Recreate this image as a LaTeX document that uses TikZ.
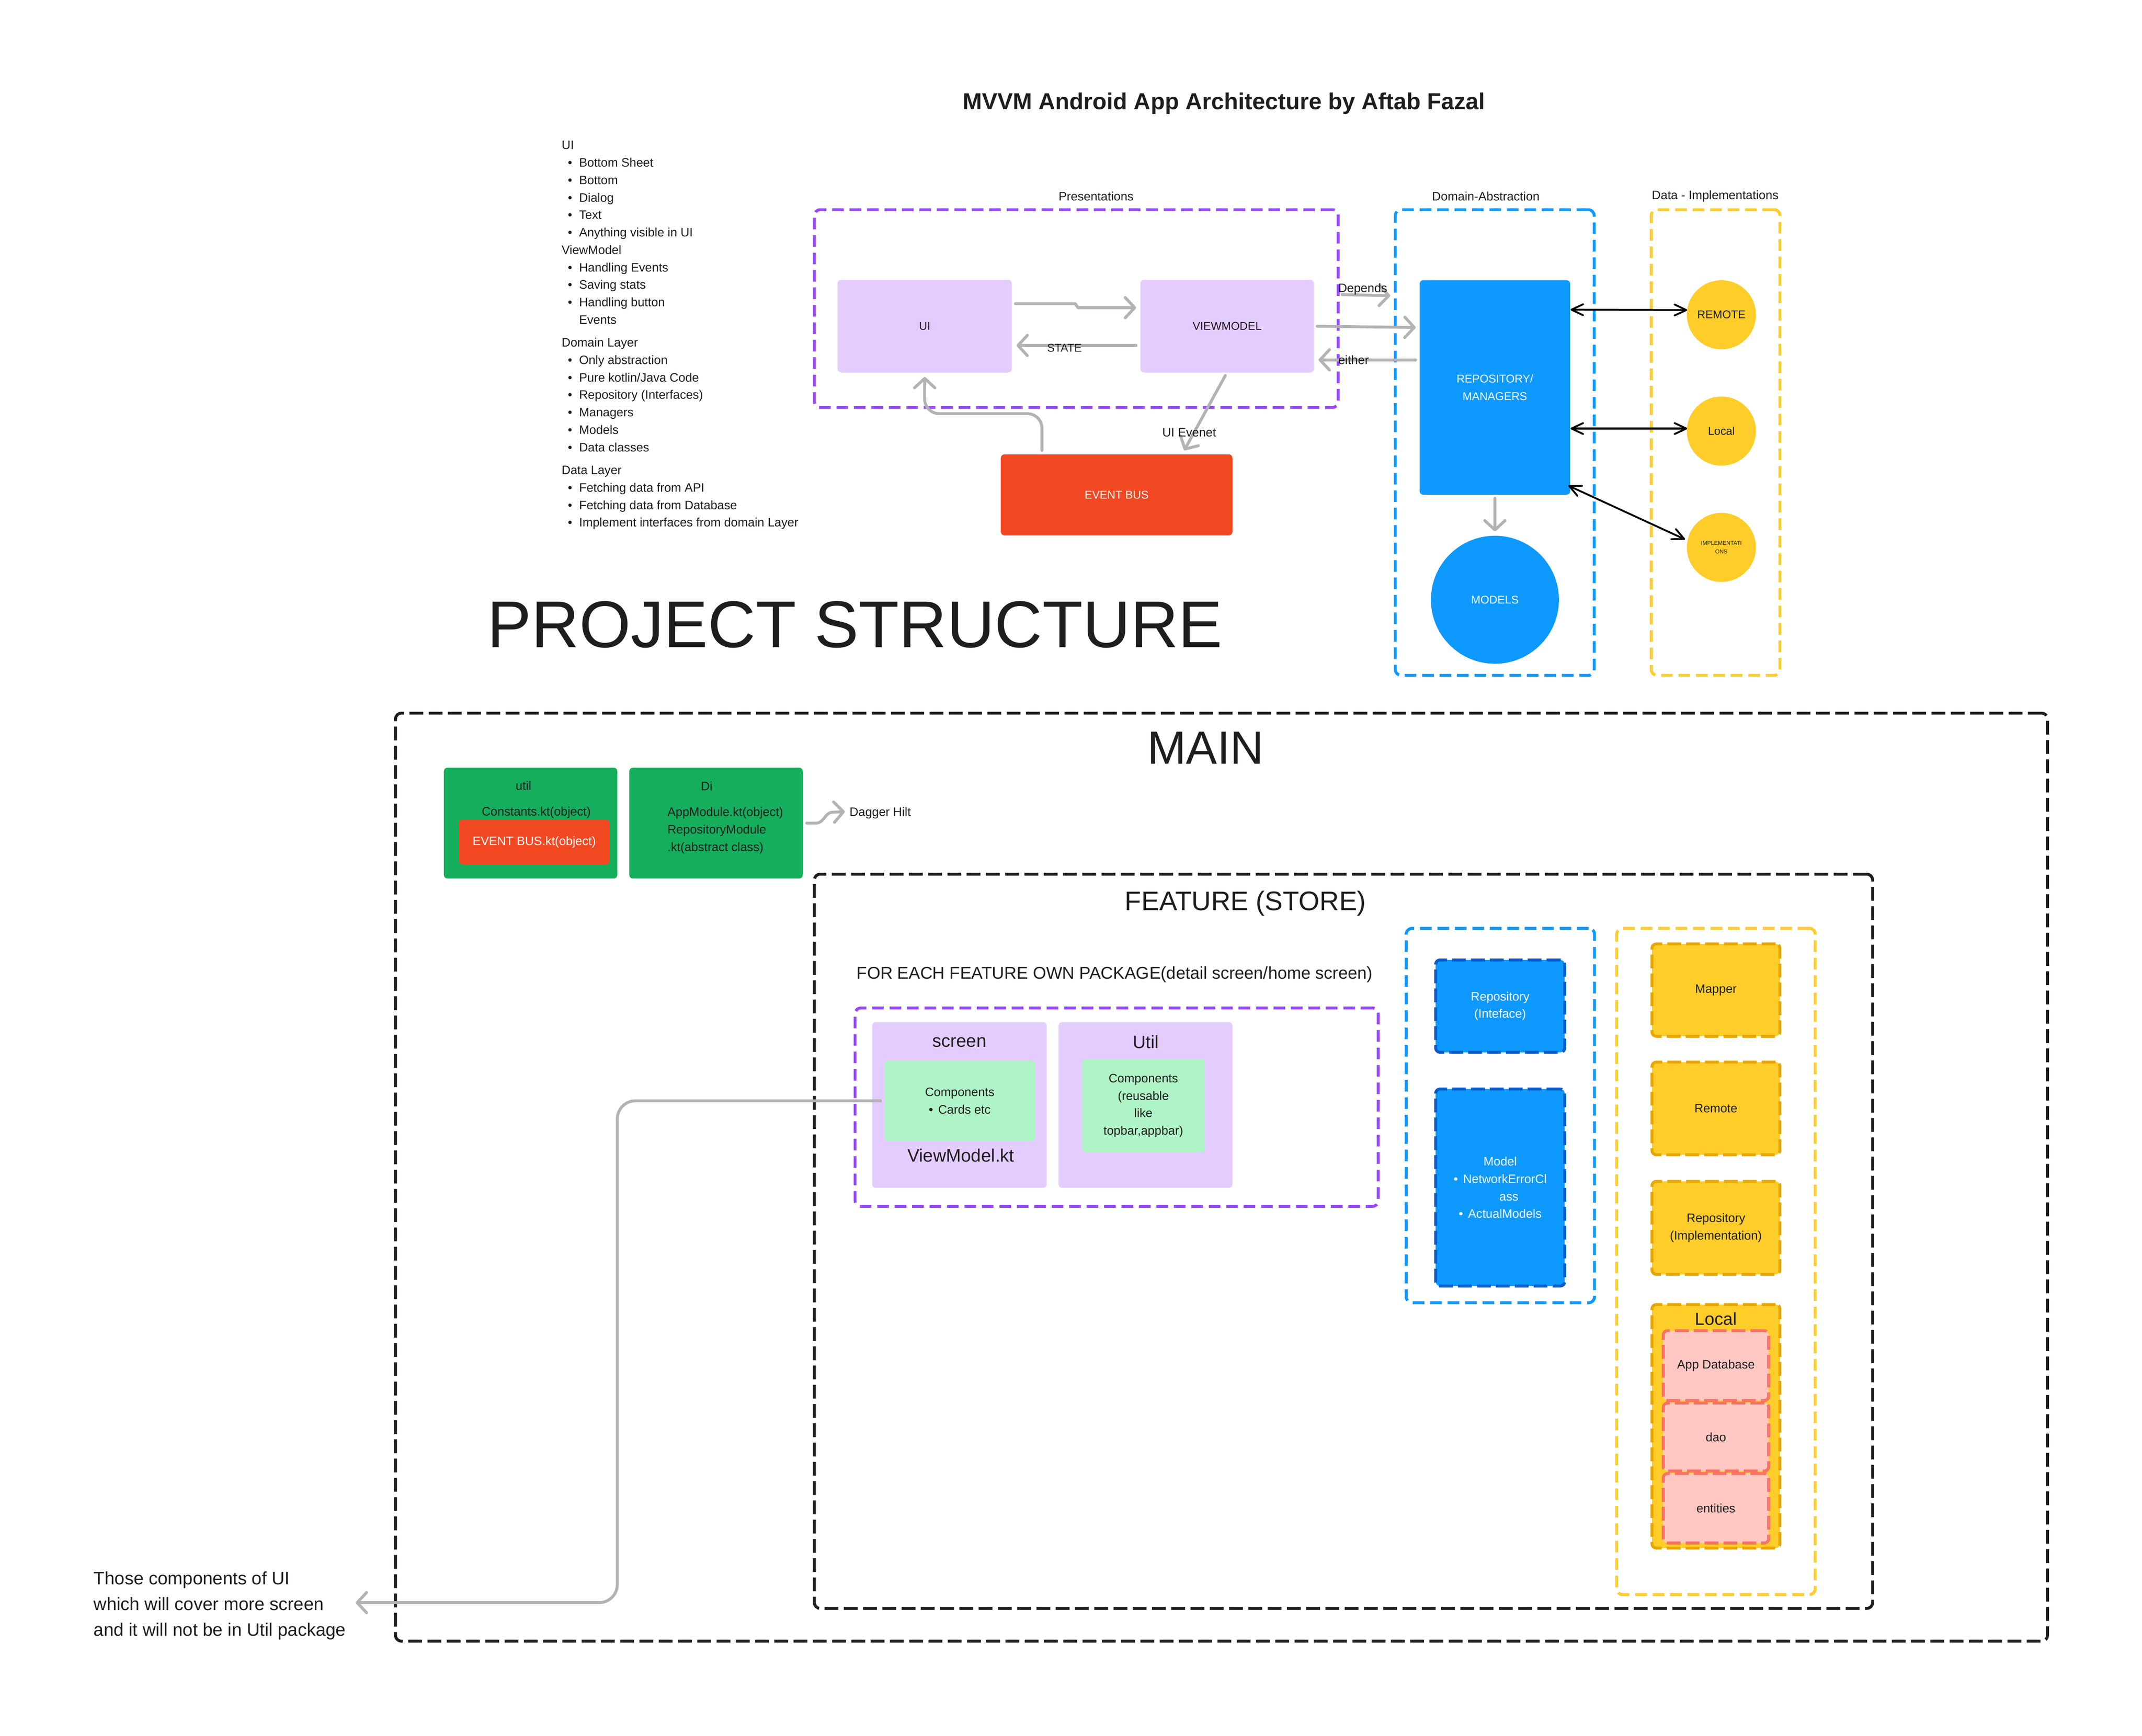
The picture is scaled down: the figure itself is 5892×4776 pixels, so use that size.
\documentclass[tikz,border=0pt]{standalone}
\usepackage{fontspec}
\setmainfont{Liberation Sans}
\usetikzlibrary{arrows.meta,calc}
\definecolor{txt}{HTML}{1E1E1E}
\definecolor{purp}{HTML}{9747FF}
\definecolor{lpurp}{HTML}{E4CCFF}
\definecolor{fblue}{HTML}{0D99FF}
\definecolor{dblue}{HTML}{0B5CC7}
\definecolor{fyel}{HTML}{FFCD29}
\definecolor{dyel}{HTML}{E8A600}
\definecolor{fred}{HTML}{F24822}
\definecolor{fgreen}{HTML}{14AE5C}
\definecolor{lgreen}{HTML}{AFF4C6}
\definecolor{pinkf}{HTML}{FFC7C2}
\definecolor{salmon}{HTML}{F87265}
\definecolor{garrow}{HTML}{B3B3B3}
\newcommand\lstbul{\hspace*{17pt}\makebox[31pt][l]{\textbullet}}
\begin{document}
\begin{tikzpicture}[x=1pt,y=-1pt,
  every node/.style={inner sep=0pt,outer sep=0pt,text=txt},
  sm/.style={font=\fontsize{33.7pt}{48pt}\selectfont},
  lbl/.style={font=\fontsize{31pt}{49pt}\selectfont},
  md/.style={font=\fontsize{49.5pt}{71pt}\selectfont},
  sbox/.style={rectangle,rounded corners=10pt},
  dframe/.style={rectangle,rounded corners=16pt,line width=8pt,dash pattern=on 32pt off 16pt},
  kframe/.style={rectangle,rounded corners=16pt,line width=8pt,dash pattern=on 38pt off 15pt,draw=txt},
  dbox/.style={rectangle,rounded corners=12pt,line width=8pt,dash pattern=on 38pt off 14pt},
  garr/.style={draw=garrow,line width=8pt,line cap=round,line join=round,-{Straight Barb[length=26pt,width=56pt,round]}},
  barr/.style={draw=black,line width=5pt,line cap=round,{Straight Barb[length=32pt,width=30pt,round]}-{Straight Barb[length=32pt,width=30pt,round]}},
]
\fill[white] (0,0) rectangle (5892,4776);
\useasboundingbox (0,0) rectangle (5892,4776);

% ---------- title and notes
\node[font=\fontsize{63.7pt}{76pt}\selectfont\bfseries] (title) at (3367,285) {MVVM Android App Architecture by Aftab Fazal};

\node[sm,align=left,anchor=north west] (notes) at (1545,388) {UI\\%
\lstbul Bottom Sheet\\%
\lstbul Bottom\\%
\lstbul Dialog\\%
\lstbul Text\\%
\lstbul Anything visible in UI\\%
ViewModel\\%
\lstbul Handling Events\\%
\lstbul Saving stats\\%
\lstbul Handling button\\%
\hspace*{48pt}Events\\[15pt]%
Domain Layer\\%
\lstbul Only abstraction\\%
\lstbul Pure kotlin/Java Code\\%
\lstbul Repository (Interfaces)\\%
\lstbul Managers\\%
\lstbul Models\\%
\lstbul Data classes\\[15pt]%
Data Layer\\%
\lstbul Fetching data from API\\%
\lstbul Fetching data from Database\\%
\lstbul Implement interfaces from domain Layer};

% ---------- presentation layer
\node[dframe,draw=purp,minimum width=1441pt,minimum height=544pt] (pres) at (2960.5,849) {};
\node[sm] (preslbl) at (3015,540) {Presentations};
\node[sbox,fill=lpurp,minimum width=479pt,minimum height=255pt,lbl] (ui) at (2543.5,897.5) {UI};
\node[sbox,fill=lpurp,minimum width=477pt,minimum height=255pt,lbl] (vm) at (3375.5,897.5) {VIEWMODEL};
\node[sbox,fill=fred,minimum width=637pt,minimum height=223pt,lbl,text=white] (bus) at (3071.5,1361.5) {EVENT BUS};

% ---------- domain layer
\node[dframe,draw=fblue,minimum width=547pt,minimum height=1281pt] (dom) at (4111.5,1217.5) {};
\node[sm] (domlbl) at (4087,540) {Domain-Abstraction};
\node[sbox,fill=fblue,minimum width=414pt,minimum height=590pt,lbl,text=white,align=center] (repo) at (4112,1066) {REPOSITORY/\\MANAGERS};
\node[circle,fill=fblue,minimum size=352pt,lbl,text=white] (models) at (4112,1650) {MODELS};

% ---------- data layer
\node[dframe,draw=fyel,minimum width=354pt,minimum height=1281pt] (data) at (4719,1217.5) {};
\node[sm] (datalbl) at (4718,540) {Data - Implementations};
\node[circle,fill=fyel,minimum size=190pt,lbl] (remote) at (4735,866) {REMOTE};
\node[circle,fill=fyel,minimum size=190pt,lbl] (local) at (4735,1186) {Local};
\node[circle,fill=fyel,minimum size=190pt,font=\fontsize{15.5pt}{23pt}\selectfont,align=center] (impl) at (4735,1506) {IMPLEMENTATI\\ONS};

% ---------- top connectors
\draw[garr] ($(ui.east)+(10,-62)$) -- ++(165,0) -- ++(7,11) -- ($(vm.west)+(-12,-51)$);
\draw[garr] ($(vm.west)+(-12,53)$) -- ($(ui.east)+(13,53)$);
\node[lbl] (state) at (2928,957) {STATE};
\draw[garr] ($(vm.east)+(9,0)$) -- ($(repo.west)+(-11,-165)$);
\draw[garr] ($(vm.east)+(78,-87)$) -- ($(vm.east)+(210,-84)$);
\node[sm,anchor=west] (depends) at (3681,796) {Depends};
\draw[garr] ($(repo.west)+(-11,-76)$) -- ($(vm.east)+(13,92.5)$);
\node[sm,anchor=west] (either) at (3681,990) {either};
\draw[garr] ($(vm.south)+(-5,8)$) -- ($(bus.north)+(186,-11)$);
\node[sm] (uievent) at (3271,1190) {UI Evenet};
\draw[garr,rounded corners=40pt] ($(bus.north)+(-205.5,-11)$) |- ($(ui.south)+(0,113)$) -- ($(ui.south)+(0,12)$);
\draw[garr] ($(repo.south)+(0,10)$) -- ($(models.north)+(0,-12)$);
\draw[barr] ($(repo.east)+(1,-214)$) -- ($(remote.west)+(1,-13)$);
\draw[barr] ($(repo.east)+(1,113)$) -- ($(local.west)+(1,-7)$);
\draw[barr] ($(repo.east)+(-5,270)$) -- ($(impl.west)+(-5,-22)$);

% ---------- project structure
\node[font=\fontsize{182pt}{200pt}\selectfont] (ps) at (2352,1718) {PROJECT STRUCTURE};

\node[kframe,minimum width=4544pt,minimum height=2553pt] (mainf) at (3360,3238.5) {};
\node[font=\fontsize{128pt}{140pt}\selectfont] (mainlbl) at (3316,2058) {MAIN};

\node[sbox,fill=fgreen,minimum width=477pt,minimum height=305pt] (utilb) at (1459.5,2264.5) {};
\node[sm] (utillbl) at (1440,2162) {util};
\node[sm] (consts) at (1475,2235) {Constants.kt(object)};
\node[sbox,fill=fred,minimum width=415pt,minimum height=123pt,sm,text=white] (buskt) at (1469.5,2316.5) {EVENT BUS.kt(object)};
\node[sbox,fill=fgreen,minimum width=477pt,minimum height=305pt] (di) at (1969.5,2264.5) {};
\node[sm] (dilbl) at (1944,2162) {Di};
\node[sm,align=left,anchor=west] (ditxt) at (1836,2285) {AppModule.kt(object)\\RepositoryModule\\.kt(abstract class)};
\node[sm,anchor=west] (dh) at (2337,2237) {Dagger Hilt};
\draw[garr] ($(di.east)+(11,0)$) -- ++(26,0) to[out=0,in=180] ++(46,-30) -- ($(dh.west)+(-13,-4)$);

% ---------- feature
\node[kframe,minimum width=2911pt,minimum height=2020pt] (feat) at (3695.5,3415) {};
\node[font=\fontsize{74pt}{84pt}\selectfont] (featlbl) at (3426,2485) {FEATURE (STORE)};
\node[font=\fontsize{47pt}{56pt}\selectfont] (foreach) at (3066,2681) {FOR EACH FEATURE OWN PACKAGE(detail screen/home screen)};
\node[dframe,draw=purp,minimum width=1439pt,minimum height=546pt] (pkg) at (3071.5,3046) {};
\node[sbox,fill=lpurp,minimum width=480pt,minimum height=456pt] (screen) at (2639,3040) {};
\node[md] (screenlbl) at (2639,2867) {screen};
\node[sbox,fill=lgreen,minimum width=414pt,minimum height=221pt,sm,align=center] (comp) at (2640,3028.5) {Components\\\textbullet\hspace{14pt}Cards etc};
\node[md] (vmkt) at (2643,3179) {ViewModel.kt};
\node[sbox,fill=lpurp,minimum width=478pt,minimum height=456pt] (utilf) at (3151,3040) {};
\node[md] (utilflbl) at (3152,2866) {Util};
\node[sbox,fill=lgreen,minimum width=338pt,minimum height=256pt,sm,align=center] (ucomp) at (3145,3042) {Components\\(reusable\\like\\topbar,appbar)};

\node[dframe,draw=fblue,minimum width=518pt,minimum height=1030pt] (bfr) at (4127,3069) {};
\node[dbox,fill=fblue,draw=dblue,minimum width=355pt,minimum height=254pt,sm,text=white,align=center] (repoi) at (4126.5,2768) {Repository\\(Inteface)};
\node[dbox,fill=fblue,draw=dblue,minimum width=355pt,minimum height=542pt,sm,text=white,align=center] (model) at (4126.5,3267) {Model\\\textbullet\hspace{14pt}NetworkErrorCl\\\hspace*{48pt}ass\\\textbullet\hspace{14pt}ActualModels};

\node[dframe,draw=fyel,minimum width=546pt,minimum height=1833pt] (yfr) at (4720,3470.5) {};
\node[dbox,fill=fyel,draw=dyel,minimum width=352pt,minimum height=254pt,sm] (mapper) at (4720,2724) {Mapper};
\node[dbox,fill=fyel,draw=dyel,minimum width=352pt,minimum height=255pt,sm] (remotef) at (4720,3049.5) {Remote};
\node[dbox,fill=fyel,draw=dyel,minimum width=352pt,minimum height=256pt,sm,align=center] (repoimpl) at (4720,3378) {Repository\\(Implementation)};
\node[dbox,fill=fyel,draw=dyel,minimum width=352pt,minimum height=670pt] (localf) at (4720,3924) {};
\node[font=\fontsize{48pt}{56pt}\selectfont] (locallbl) at (4720,3628) {Local};
\node[dbox,fill=pinkf,draw=salmon,minimum width=290pt,minimum height=192pt,sm] (appdb) at (4720,3757) {App Database};
\node[dbox,fill=pinkf,draw=salmon,minimum width=290pt,minimum height=187pt,sm] (dao) at (4720,3953.5) {dao};
\node[dbox,fill=pinkf,draw=salmon,minimum width=290pt,minimum height=191pt,sm] (entities) at (4720,4149.5) {entities};

% ---------- bottom note
\node[md,align=left,anchor=north west] (note) at (258,4323) {Those components of UI\\which will cover more screen\\and it will not be in Util package};
\draw[garr,rounded corners=50pt] ($(comp.west)+(-11,0)$) -- ++(-724,0) |- ($(note.east)+(27,-8)$);
\end{tikzpicture}
\end{document}
